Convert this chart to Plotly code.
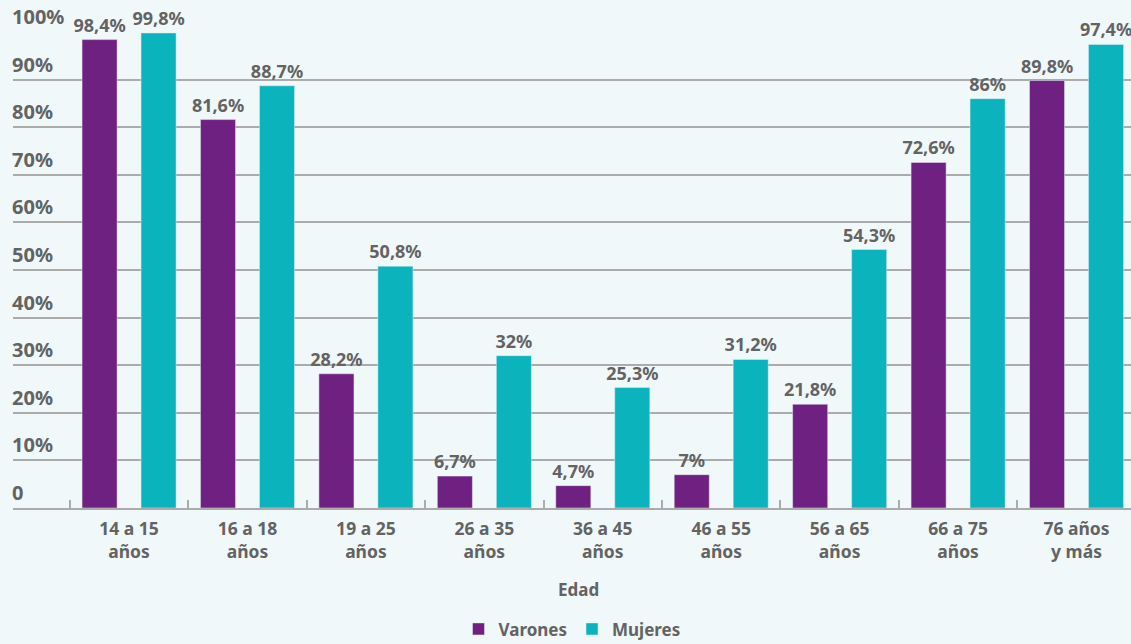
import plotly.graph_objects as go

categories = ["14 a 15<br>años", "16 a 18<br>años", "19 a 25<br>años", "26 a 35<br>años",
              "36 a 45<br>años", "46 a 55<br>años", "56 a 65<br>años", "66 a 75<br>años",
              "76 años<br>y más"]
varones = [98.4, 81.6, 28.2, 6.7, 4.7, 7, 21.8, 72.6, 89.8]
mujeres = [99.8, 88.7, 50.8, 32, 25.3, 31.2, 54.3, 86, 97.4]
y_ticks = [0, 10, 20, 30, 40, 50, 60, 70, 80, 90, 100]
y_tick_labels = ["0", "10%", "20%", "30%", "40%", "50%", "60%", "70%", "80%", "90%", "100%"]

PURPLE = "#6e2181"
TEAL = "#0bb3bc"
GRAY = "#636363"
GRID = "#ababab"
BG = "#f0f8fa"
FONT = "Noto Sans"

def fmt(v):
    return f"{v:g}".replace(".", ",") + "%"

W = 0.296
OFF = 0.249

fig = go.Figure()
fig.add_trace(go.Bar(
    x=categories, y=varones, name="Varones", marker_color=PURPLE,
    width=W, offset=-OFF - W / 2,
    text=[fmt(v) for v in varones], textposition="outside", cliponaxis=False,
    constraintext="none",
    textfont=dict(family=FONT, size=18, color=GRAY, weight="bold"),
))
fig.add_trace(go.Bar(
    x=categories, y=mujeres, name="Mujeres", marker_color=TEAL,
    width=W, offset=OFF - W / 2,
    text=[fmt(v) for v in mujeres], textposition="outside", cliponaxis=False,
    constraintext="none",
    textfont=dict(family=FONT, size=18, color=GRAY, weight="bold"),
))

for v, lab in zip(y_ticks, y_tick_labels):
    fig.add_annotation(x=0, xref="paper", xanchor="left", y=v, yref="y", yanchor="bottom",
                       text=lab, showarrow=False, xshift=-3, yshift=0,
                       font=dict(family=FONT, size=20, color=GRAY, weight="bold"))

fig.add_annotation(x=0.5, xref="paper", y=-0.172, yref="paper", yanchor="middle",
                   text="Edad", showarrow=False, xshift=6,
                   font=dict(family=FONT, size=17, color=GRAY, weight="bold"))

fig.update_layout(
    width=1131, height=644,
    paper_bgcolor=BG, plot_bgcolor=BG,
    margin=dict(l=13, r=0, t=32, b=136, autoexpand=False),
    barmode="overlay",
    showlegend=True,
    legend=dict(orientation="h", x=0.5, xanchor="center", y=-0.255, yanchor="middle",
                font=dict(family=FONT, size=17, color=GRAY, weight="bold"),
                bgcolor="rgba(0,0,0,0)", itemwidth=30, traceorder="normal"),
    xaxis=dict(range=[-0.98, 8.46], showgrid=False, showline=True, linecolor=GRID, linewidth=2,
               ticks="inside", tickson="boundaries", ticklen=8, tickcolor=GRID, tickwidth=2,
               ticklabelstandoff=4,
               tickfont=dict(family=FONT, size=17.5, color=GRAY, weight="bold")),
    yaxis=dict(range=[0, 100], tickvals=y_ticks, showticklabels=False, showgrid=True,
               gridcolor=GRID, gridwidth=2, zeroline=False),
    font=dict(family=FONT, color=GRAY),
)

fig.write_html("out.html", config={"displayModeBar": False},
               post_script="document.body.style.margin='0';document.body.style.background='" + BG + "';")
